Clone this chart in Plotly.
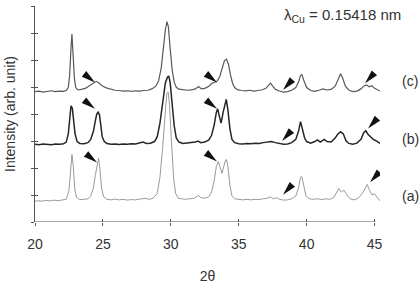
import numpy as np
import plotly.graph_objects as go

# ---------------- data ----------------
two_theta_c = [20.0, 20.3, 20.6, 20.9, 21.2, 21.5, 21.8, 22.1, 22.3, 22.45, 22.55, 22.65, 22.72, 22.8, 22.9, 23.0,
               23.15, 23.4, 23.7, 23.9, 24.1, 24.3, 24.5, 24.65, 24.8, 25.0, 25.3, 25.6, 25.9, 26.2, 26.5, 26.8,
               27.1, 27.4, 27.7, 28.0, 28.3, 28.6, 28.9, 29.1, 29.3, 29.45, 29.6, 29.72, 29.82, 29.95, 30.1,
               30.25, 30.4, 30.6, 30.9, 31.2, 31.5, 31.8, 32.05, 32.25, 32.5, 32.8, 33.0, 33.2, 33.4, 33.6, 33.8,
               33.95, 34.1, 34.25, 34.4, 34.55, 34.7, 34.9, 35.2, 35.5, 35.8, 36.1, 36.4, 36.7, 37.0, 37.2, 37.33,
               37.5, 37.7, 38.0, 38.3, 38.6, 38.9, 39.2, 39.4, 39.55, 39.65, 39.8, 40.0, 40.3, 40.6, 40.9, 41.2,
               41.5, 41.8, 42.1, 42.3, 42.5, 42.65, 42.85, 43.1, 43.4, 43.7, 44.0, 44.2, 44.4, 44.6, 44.8, 45.0,
               45.2, 45.4]
intensity_c = [0.00, 0.02, -0.02, 0.01, 0.03, 0.00, 0.02, 0.01, 0.04, 0.15, 0.6, 1.6, 2.13, 1.4, 0.5, 0.15,
               0.06, 0.08, 0.12, 0.18, 0.24, 0.32, 0.38, 0.34, 0.27, 0.2, 0.13, 0.08, 0.05, 0.04, 0.02, 0.03,
               0.01, 0.03, 0.02, 0.04, 0.05, 0.1, 0.2, 0.4, 0.9, 1.6, 2.3, 2.59, 2.4, 1.6, 0.8,
               0.35, 0.16, 0.09, 0.07, 0.05, 0.06, 0.1, 0.19, 0.1, 0.12, 0.2, 0.3, 0.35, 0.38, 0.55, 0.9,
               1.15, 1.2, 1.0, 0.6, 0.3, 0.15, 0.07, 0.04, 0.03, 0.05, 0.02, 0.04, 0.06, 0.12, 0.25, 0.31,
               0.2, 0.08, 0.02, -0.02, 0.0, 0.05, 0.15, 0.35, 0.6, 0.63, 0.4, 0.15, 0.04, 0.01, 0.05, 0.1,
               0.06, 0.08, 0.2, 0.45, 0.66, 0.5, 0.2, 0.06, 0.0, 0.02, 0.1, 0.2, 0.25, 0.18, 0.22, 0.12,
               0.08, 0.02]

two_theta_b = [20.0, 20.3, 20.6, 20.9, 21.2, 21.5, 21.8, 22.1, 22.3, 22.45, 22.55, 22.65, 22.75, 22.85, 22.95,
               23.1, 23.3, 23.6, 23.9, 24.1, 24.3, 24.45, 24.55, 24.65, 24.75, 24.85, 24.95, 25.1, 25.3, 25.6,
               25.9, 26.2, 26.5, 26.8, 27.1, 27.4, 27.7, 27.95, 28.2, 28.5, 28.8, 29.0, 29.2, 29.4, 29.6, 29.75,
               29.85, 29.95, 30.1, 30.25, 30.4, 30.6, 30.9, 31.2, 31.5, 31.8, 32.0, 32.2, 32.5, 32.8, 33.0, 33.2,
               33.35, 33.45, 33.55, 33.7, 33.85, 34.0, 34.08, 34.2, 34.35, 34.5, 34.7, 35.0, 35.3, 35.6, 35.9,
               36.2, 36.5, 36.8, 37.1, 37.4, 37.7, 38.0, 38.3, 38.6, 38.9, 39.2, 39.4, 39.55, 39.7, 39.85, 40.0,
               40.3, 40.6, 40.8, 41.0, 41.3, 41.5, 41.8, 42.1, 42.3, 42.5, 42.7, 42.9, 43.1, 43.4, 43.7, 44.0,
               44.2, 44.35, 44.5, 44.7, 44.9, 45.1, 45.3, 45.4]
intensity_b = [0.02, 0.0, 0.03, 0.01, 0.0, 0.03, 0.02, 0.04, 0.1, 0.4, 1.1, 1.44, 1.35, 0.9, 0.4,
               0.12, 0.05, 0.04, 0.08, 0.2, 0.5, 0.9, 1.15, 1.21, 1.1, 0.7, 0.3, 0.12, 0.05, 0.02,
               0.03, 0.01, 0.03, 0.02, 0.04, 0.03, 0.06, 0.1, 0.05, 0.06, 0.12, 0.3, 0.8, 1.6, 2.3, 2.5,
               2.55, 2.3, 1.5, 0.7, 0.25, 0.1, 0.05, 0.06, 0.08, 0.1, 0.14, 0.08, 0.1, 0.18, 0.35, 0.75,
               1.2, 1.33, 1.1, 0.8, 1.2, 1.6, 1.68, 1.3, 0.6, 0.2, 0.08, 0.04, 0.03, 0.05, 0.04,
               0.06, 0.05, 0.08, 0.1, 0.12, 0.08, 0.04, 0.02, 0.03, 0.08, 0.2, 0.5, 0.86, 0.6, 0.25, 0.12,
               0.06, 0.12, 0.18, 0.1, 0.2, 0.12, 0.1, 0.25, 0.4, 0.48, 0.4, 0.15, 0.05, 0.02, 0.06, 0.2,
               0.45, 0.52, 0.4, 0.3, 0.2, 0.15, 0.08, 0.05]

two_theta_a = [20.0, 20.2, 20.5, 20.8, 21.1, 21.4, 21.7, 22.0, 22.3, 22.5, 22.62, 22.72, 22.82, 22.92, 23.05,
               23.3, 23.6, 23.9, 24.1, 24.3, 24.45, 24.6, 24.68, 24.78, 24.9, 25.05, 25.3, 25.6, 25.9, 26.2,
               26.5, 26.8, 27.1, 27.4, 27.7, 28.1, 28.4, 28.7, 29.0, 29.2, 29.4, 29.55, 29.7, 29.8, 29.9, 30.05,
               30.2, 30.35, 30.55, 30.8, 31.1, 31.4, 31.7, 31.9, 32.05, 32.2, 32.5, 32.8, 33.0, 33.2, 33.35,
               33.5, 33.62, 33.77, 33.9, 34.0, 34.09, 34.2, 34.35, 34.5, 34.7, 35.0, 35.3, 35.6, 35.9, 36.2,
               36.5, 36.8, 37.1, 37.3, 37.55, 37.8, 38.0, 38.3, 38.6, 38.9, 39.2, 39.4, 39.55, 39.65, 39.8,
               39.95, 40.2, 40.5, 40.8, 41.1, 41.4, 41.7, 42.0, 42.2, 42.37, 42.55, 42.75, 42.95, 43.2, 43.5,
               43.8, 44.1, 44.3, 44.46, 44.6, 44.8, 45.0, 45.2, 45.4]
intensity_a = [0.0, 0.03, 0.01, 0.04, 0.02, 0.05, 0.03, 0.05, 0.08, 0.4, 1.2, 1.74, 1.3, 0.5, 0.15,
               0.07, 0.08, 0.1, 0.2, 0.5, 1.0, 1.5, 1.6, 1.2, 0.5, 0.18, 0.08, 0.06, 0.09, 0.06,
               0.08, 0.05, 0.07, 0.06, 0.08, 0.12, 0.08, 0.12, 0.3, 0.9, 2.0, 3.2, 4.0, 4.06, 3.6, 2.2,
               0.9, 0.3, 0.12, 0.1, 0.08, 0.1, 0.12, 0.18, 0.22, 0.14, 0.12, 0.18, 0.35, 0.8, 1.3,
               1.48, 1.25, 1.04, 1.3, 1.5, 1.56, 1.3, 0.6, 0.2, 0.1, 0.07, 0.06, 0.08, 0.06, 0.08,
               0.07, 0.1, 0.12, 0.17, 0.1, 0.14, 0.08, 0.05, 0.06, 0.1, 0.2, 0.5, 0.9, 0.92, 0.5,
               0.2, 0.1, 0.08, 0.1, 0.07, 0.1, 0.08, 0.15, 0.35, 0.48, 0.35, 0.42, 0.25, 0.1, 0.06,
               0.12, 0.3, 0.5, 0.63, 0.45, 0.25, 0.28, 0.15, 0.02]

series_labels = ["(c)", "(b)", "(a)"]
x_tick_values = [20, 25, 30, 35, 40, 45]
x_tick_labels = ["20", "25", "30", "35", "40", "45"]
y_tick_values = [0, 1, 2, 3, 4, 5, 6, 7, 8]

# arrow markers: tip position (2theta, plotted y) and pointing direction
arrow_tips_x = [24.42, 33.40, 38.26, 44.30, 24.42, 33.40, 38.19, 44.52, 24.57, 33.40, 38.26, 44.67]
arrow_tips_y = [5.17, 5.17, 4.89, 5.14, 4.19, 4.19, 3.00, 3.46, 2.20, 2.24, 1.01, 1.47]
arrow_dirs = ["dr", "dr", "dl", "dl", "dr", "dr", "dl", "dl", "dr", "dr", "dl", "dl"]

# ---------------- styling / layout ----------------
offsets = {"(c)": 4.83, "(b)": 2.86, "(a)": 0.76}
colors = {"(c)": "#585858", "(b)": "#262626", "(a)": "#9a9a9a"}
widths = {"(c)": 1.2, "(b)": 1.5, "(a)": 1.0}
label_y = {"(c)": 5.24, "(b)": 3.07, "(a)": 0.98}
FONT = "Liberation Sans, Arial, sans-serif"
AXC = "#555555"
TXT = "#333333"

fig = go.Figure()
series = {"(c)": (two_theta_c, intensity_c), "(b)": (two_theta_b, intensity_b), "(a)": (two_theta_a, intensity_a)}
for lab in series_labels:
    xs, ys = series[lab]
    fig.add_trace(go.Scatter(x=xs, y=np.array(ys) + offsets[lab], mode="lines",
                             line=dict(color=colors[lab], width=widths[lab]), showlegend=False,
                             hoverinfo="skip"))

# dummy trace for overlay axes (crossing ticks)
fig.add_trace(go.Scatter(x=[None], y=[None], xaxis="x2", yaxis="y2", showlegend=False))

XR = [20, 45.4]
YR = [0, 8]
fig.update_layout(
    width=420, height=288,
    margin=dict(l=35, r=40, t=6, b=53),
    paper_bgcolor="white", plot_bgcolor="white",
    font=dict(family=FONT, size=14, color=TXT),
    xaxis=dict(range=XR, tickvals=x_tick_values, ticktext=x_tick_labels, ticks="outside", ticklen=3,
               tickcolor=AXC, tickwidth=1, showline=False, showgrid=False, zeroline=False,
               ticklabelstandoff=6, tickfont=dict(size=14, color=TXT),
               title=dict(text="2θ", font=dict(size=14, color=TXT), standoff=20)),
    yaxis=dict(range=YR, tickvals=y_tick_values, ticks="outside", ticklen=3, tickcolor=AXC, tickwidth=1,
               showticklabels=False, showline=True, linecolor=AXC, linewidth=1, showgrid=False,
               zeroline=False),
    xaxis2=dict(range=XR, overlaying="x", anchor="y", tickvals=x_tick_values, ticks="inside", ticklen=3,
                tickcolor=AXC, tickwidth=1, showticklabels=False, showline=False, showgrid=False,
                zeroline=False, side="bottom"),
    yaxis2=dict(range=YR, overlaying="y", anchor="x", tickvals=y_tick_values, ticks="inside", ticklen=3,
                tickcolor=AXC, tickwidth=1, showticklabels=False, showline=False, showgrid=False,
                zeroline=False, side="left"),
)

# x axis line only from 20 to 45
fig.add_shape(type="line", xref="x", yref="y", x0=x_tick_values[0], x1=x_tick_values[-1], y0=0, y1=0,
              line=dict(color=AXC, width=1))

# y title
fig.add_annotation(text="Intensity (arb. unit)", xref="paper", yref="paper", x=0, y=0.5,
                   xanchor="center", yanchor="middle", xshift=-25, textangle=-90, showarrow=False,
                   font=dict(size=14, color=TXT))
# wavelength note
fig.add_annotation(text="λ<sub>Cu</sub> = 0.15418 nm", xref="paper", yref="paper", x=1.0, y=1.0,
                   xanchor="right", yanchor="middle", xshift=23, yshift=-9, showarrow=False,
                   font=dict(size=15, color=TXT))
# series labels
for lab in series_labels:
    fig.add_annotation(text=lab, xref="paper", yref="y", x=1.0, y=label_y[lab], xanchor="center",
                       yanchor="middle", xshift=30, showarrow=False, font=dict(size=14, color=TXT))

# wedge arrows
L, W = 14.0, 3.6
for tx, ty, d in zip(arrow_tips_x, arrow_tips_y, arrow_dirs):
    if d == "dr":
        ang = np.deg2rad(-38)
    else:
        ang = np.deg2rad(-132)
    u = np.array([np.cos(ang), np.sin(ang)])
    n = np.array([-u[1], u[0]])
    base = -L * u
    p1 = base + W * n
    p2 = base - W * n
    path = f"M 0 0 L {p1[0]:.2f} {p1[1]:.2f} L {p2[0]:.2f} {p2[1]:.2f} Z"
    fig.add_shape(type="path", xref="x", yref="y", xsizemode="pixel", ysizemode="pixel",
                  xanchor=tx, yanchor=ty, path=path, fillcolor="#111111", line=dict(width=0))

fig.write_html("out.html")
